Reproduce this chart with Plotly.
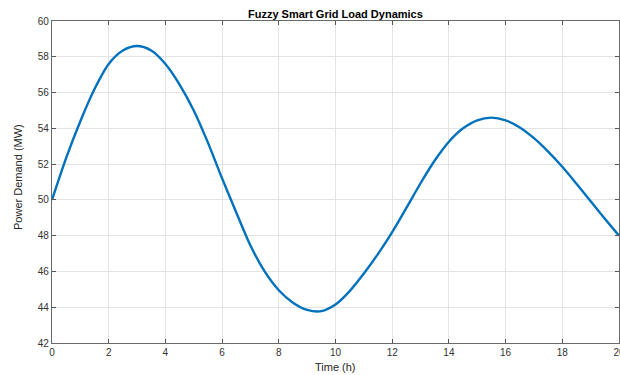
import plotly.graph_objects as go

time_h = [0.0, 0.5, 1.0, 1.5, 2.0, 2.5, 3.0, 3.5, 4.0, 4.5, 5.0, 5.5, 6.0, 6.5, 7.0, 7.5,
          8.0, 8.5, 9.0, 9.5, 10.0, 10.5, 11.0, 11.5, 12.0, 12.5, 13.0, 13.5, 14.0, 14.5,
          15.0, 15.5, 16.0, 16.5, 17.0, 17.5, 18.0, 18.5, 19.0, 19.5, 20.0]
power_mw = [50.0, 52.35, 54.4, 56.2, 57.6, 58.35, 58.6, 58.35, 57.6, 56.45, 55.0, 53.2,
            51.2, 49.3, 47.45, 46.0, 44.95, 44.25, 43.85, 43.78, 44.15, 44.9, 45.88, 46.98,
            48.2, 49.55, 50.93, 52.2, 53.25, 54.0, 54.45, 54.6, 54.45, 54.05, 53.45, 52.7,
            51.85, 50.9, 49.92, 48.95, 48.0]
x_ticks = [0, 2, 4, 6, 8, 10, 12, 14, 16, 18, 20]
y_ticks = [42, 44, 46, 48, 50, 52, 54, 56, 58, 60]

FONT = "Liberation Sans, Arial, Helvetica, sans-serif"

fig = go.Figure()
fig.add_trace(go.Scatter(
    x=time_h, y=power_mw, mode="lines",
    line=dict(color="#0072BD", width=2.4, shape="spline", smoothing=0.8),
    showlegend=False, hoverinfo="skip",
))

axis_common = dict(
    showline=True, linecolor="#6a6a6a", linewidth=1.2, mirror="ticks",
    ticks="inside", ticklen=4, tickcolor="#555555", tickwidth=1,
    showgrid=True, gridcolor="#e3e3e3", gridwidth=1,
    zeroline=False, automargin=False, ticklabeloverflow="allow",
    tickfont=dict(family=FONT, size=10, color="#333333"),
)

fig.update_xaxes(range=[0, 20], tickvals=x_ticks, ticktext=[str(v) for v in x_ticks], **axis_common)
fig.update_yaxes(range=[42, 60], tickvals=y_ticks, ticktext=[str(v) for v in y_ticks], **axis_common)

fig.update_layout(
    width=620, height=375,
    margin=dict(l=52, r=1, t=21, b=32, autoexpand=False),
    paper_bgcolor="white", plot_bgcolor="white",
    annotations=[
        dict(text="<b>Fuzzy Smart Grid Load Dynamics</b>", xref="paper", yref="paper",
             x=0.5, y=1.022, xanchor="center", yanchor="middle", showarrow=False,
             font=dict(family=FONT, size=11, color="#000000")),
        dict(text="Time (h)", xref="paper", yref="paper",
             x=0.5, y=-0.0745, xanchor="center", yanchor="middle", showarrow=False,
             font=dict(family=FONT, size=11, color="#262626")),
        dict(text="Power Demand (MW)", xref="paper", yref="paper", textangle=-90,
             x=-0.06, y=0.5155, xanchor="center", yanchor="middle", showarrow=False,
             font=dict(family=FONT, size=11, color="#262626")),
    ],
)

# remove the page's default body margin so the 620x375 figure fills the window exactly
fig.write_html("out.html", config={"displayModeBar": False},
               post_script="document.body.style.margin='0';document.body.style.overflow='hidden';")
